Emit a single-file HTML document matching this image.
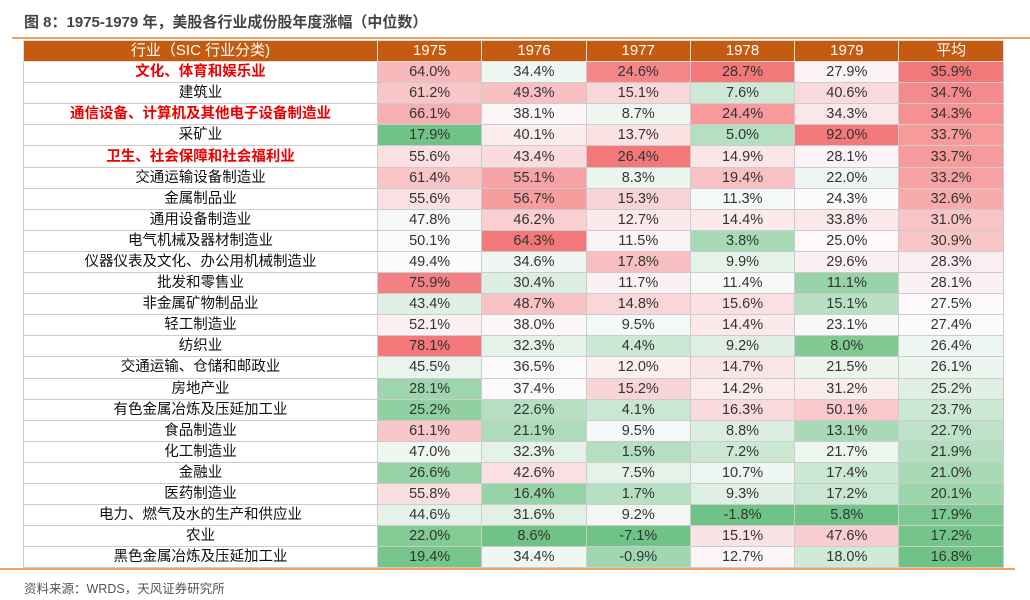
<!DOCTYPE html><html><head><meta charset="utf-8"><style>
body{margin:0;width:1030px;height:600px;background:#fff;font-family:"Liberation Sans","Noto Sans CJK SC",sans-serif;position:relative;overflow:hidden}
#t{position:absolute;left:24px;top:11px;font-size:15px;font-weight:bold;color:#444}
.l1{position:absolute;left:12px;top:37px;width:1018px;height:2px;background:#f0a060}
.l2{position:absolute;left:0;top:568px;width:1015px;height:2px;background:#f0a060}
table{position:absolute;left:23px;top:40px;border-collapse:collapse;table-layout:fixed;width:980px}
td,th{border:1px solid #ccc;height:20.1px;padding:0;text-align:center;font-size:14.5px;color:#333;line-height:20px}
th{background:#c55a11;color:#fff;font-weight:normal;font-size:15px;border-color:#ddd}
td.n{color:#111}
td.r{color:#e00;font-weight:bold}
#s{position:absolute;left:24px;top:578px;font-size:12.5px;color:#555}
</style></head><body>
<div id="t">图 8：1975-1979 年，美股各行业成份股年度涨幅（中位数）</div>
<div class="l1"></div>
<table id="tb"><colgroup><col style="width:354px"><col span="6" style="width:104.3px"></colgroup>
<tr><th>行业（SIC 行业分类)</th><th>1975</th><th>1976</th><th>1977</th><th>1978</th><th>1979</th><th>平均</th></tr></table>
<div class="l2"></div>
<div id="s">资料来源：WRDS，天风证券研究所</div>
<script>
var d=[["文化、体育和娱乐业",1,64.0,34.4,24.6,28.7,27.9,35.9],
["建筑业",0,61.2,49.3,15.1,7.6,40.6,34.7],
["通信设备、计算机及其他电子设备制造业",1,66.1,38.1,8.7,24.4,34.3,34.3],
["采矿业",0,17.9,40.1,13.7,5.0,92.0,33.7],
["卫生、社会保障和社会福利业",1,55.6,43.4,26.4,14.9,28.1,33.7],
["交通运输设备制造业",0,61.4,55.1,8.3,19.4,22.0,33.2],
["金属制品业",0,55.6,56.7,15.3,11.3,24.3,32.6],
["通用设备制造业",0,47.8,46.2,12.7,14.4,33.8,31.0],
["电气机械及器材制造业",0,50.1,64.3,11.5,3.8,25.0,30.9],
["仪器仪表及文化、办公用机械制造业",0,49.4,34.6,17.8,9.9,29.6,28.3],
["批发和零售业",0,75.9,30.4,11.7,11.4,11.1,28.1],
["非金属矿物制品业",0,43.4,48.7,14.8,15.6,15.1,27.5],
["轻工制造业",0,52.1,38.0,9.5,14.4,23.1,27.4],
["纺织业",0,78.1,32.3,4.4,9.2,8.0,26.4],
["交通运输、仓储和邮政业",0,45.5,36.5,12.0,14.7,21.5,26.1],
["房地产业",0,28.1,37.4,15.2,14.2,31.2,25.2],
["有色金属冶炼及压延加工业",0,25.2,22.6,4.1,16.3,50.1,23.7],
["食品制造业",0,61.1,21.1,9.5,8.8,13.1,22.7],
["化工制造业",0,47.0,32.3,1.5,7.2,21.7,21.9],
["金融业",0,26.6,42.6,7.5,10.7,17.4,21.0],
["医药制造业",0,55.8,16.4,1.7,9.3,17.2,20.1],
["电力、燃气及水的生产和供应业",0,44.6,31.6,9.2,-1.8,5.8,17.9],
["农业",0,22.0,8.6,-7.1,15.1,47.6,17.2],
["黑色金属冶炼及压延加工业",0,19.4,34.4,-0.9,12.7,18.0,16.8]];
var st=[];for(var c=2;c<8;c++){var v=d.map(r=>r[c]).sort((a,b)=>a-b);st[c]=[v[0],(v[11]+v[12])/2,v[23]];}
function mix(a,b,t){return a.map((x,i)=>Math.round(x+(b[i]-x)*t));}
var R=[242,108,110],W=[252,251,253],G=[99,190,123];
var h="";d.forEach(r=>{h+="<tr><td class='"+(r[1]?"r":"n")+"'>"+r[0]+"</td>";for(var c=2;c<8;c++){var s=st[c],x=r[c],col;if(x>=s[1])col=mix(W,R,(x-s[1])/(s[2]-s[1]));else col=mix(W,G,(s[1]-x)/(s[1]-s[0]));col=mix(col,[255,255,255],0.08);h+="<td style='background:rgb("+col+")'>"+x.toFixed(1)+"%</td>";}h+="</tr>";});
document.getElementById("tb").insertAdjacentHTML("beforeend",h);
</script></body></html>
